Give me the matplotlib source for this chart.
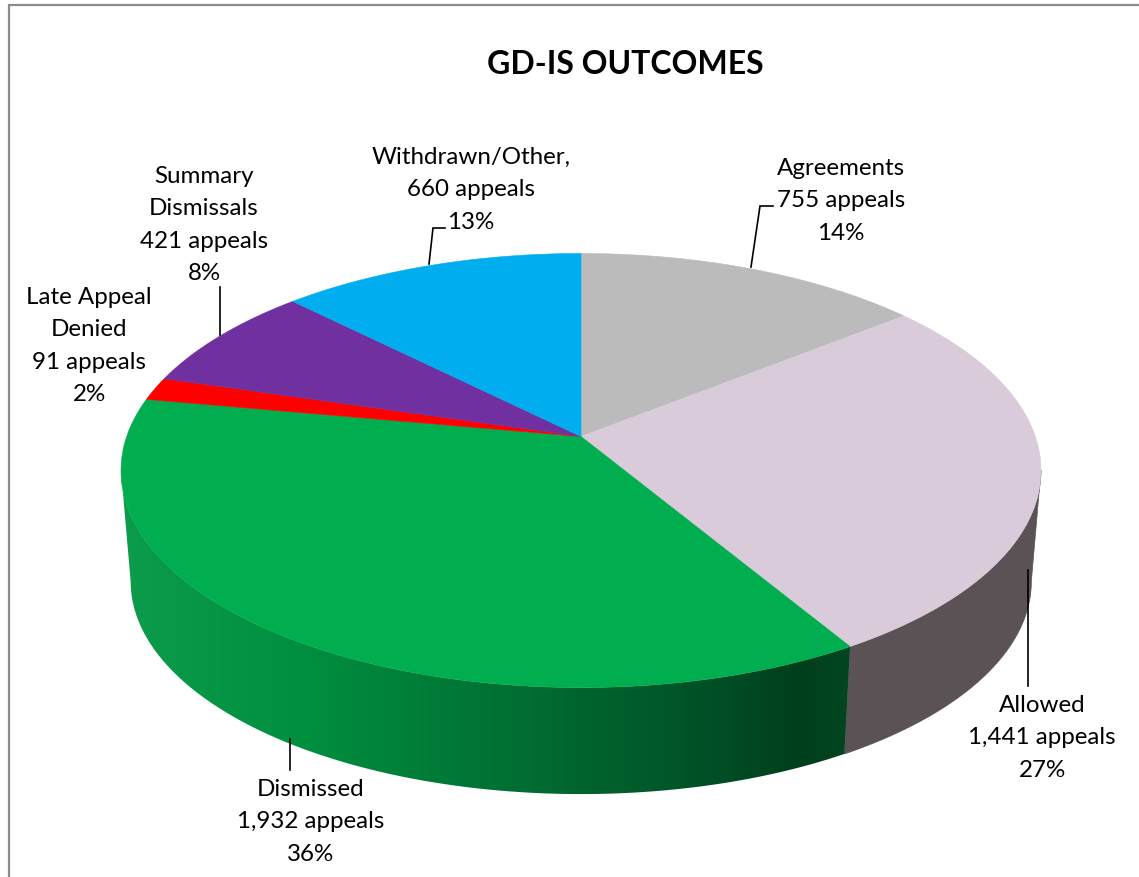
import numpy as np
import matplotlib
matplotlib.use("Agg")
import matplotlib.pyplot as plt
from matplotlib.colors import LinearSegmentedColormap
from matplotlib.patches import Polygon

plt.rcParams['font.family'] = ['Lato', 'DejaVu Sans']

# clockwise from twelve o'clock
names = ["Agreements", "Allowed", "Dismissed", "Late Appeal\nDenied", "Summary\nDismissals", "Withdrawn/Other,"]
appeals = [755, 1441, 1932, 91, 421, 660]
percents = [14, 27, 36, 2, 8, 13]
title = "GD-IS OUTCOMES"

colors = ["#BBBBBB", "#D9CBD9", "#00AE4F", "#FF0000", "#7030A0", "#00AEEF"]
label_pos = [(841, 201), (1042, 738), (311, 822), (89, 346), (204, 225), (471, 190)]
leaders = [
    ([751, 760, 773], [268, 207, 207]),
    ([1028, 1028], [571, 687]),
    ([290, 290], [740, 771]),
    ([220, 220], [288, 336]),
    ([429, 433, 445], [265, 229, 229]),
]

# pie geometry in pixels, tilt is the perspective of the disc
cx, cy = 581, 437.5
a, b, tilt = 454.3, 211.7, 0.1567
shrink, depth = 0.979, 111.8


def top_ring(theta):
    u, v = np.sin(theta), np.cos(theta)
    w = 1 + tilt * v
    return cx + a * u / w, cy - b * v / w


def bottom_ring(theta):
    x, y = top_ring(theta)
    return cx + shrink * (x - cx), cy + depth + shrink * (y - cy)


def side_polygon(start, end):
    theta = np.linspace(start, end, 200)
    x1, y1 = top_ring(theta)
    x2, y2 = bottom_ring(theta)
    return np.column_stack([np.r_[x1, x2[::-1]], np.r_[y1, y2[::-1]]])


fig = plt.figure(figsize=(11.39, 8.78), dpi=100)
ax = fig.add_axes([0, 0, 1, 1])
ax.set_xlim(0, 1139)
ax.set_ylim(878, 0)
ax.axis("off")

# chart frame, only the top and left edges are inside the canvas
ax.plot([9, 9, 1139], [878, 5.5, 5.5], color="#8C8C8C", lw=1.6, solid_joinstyle="miter")

edges = np.r_[0, np.cumsum(appeals)] / np.sum(appeals) * 2 * np.pi
limit = np.arcsin(tilt)  # where the rim meets the silhouette

# rim, visible only for the two front slices
rim_allowed = Polygon(side_polygon(np.pi / 2 + limit, edges[2]), fc="#5A5255", ec="#5A5255", lw=0.5)
ax.add_patch(rim_allowed)

rim_dismissed = Polygon(side_polygon(edges[2], 3 * np.pi / 2 - limit), fc="none", ec="none")
ax.add_patch(rim_dismissed)
shade = LinearSegmentedColormap.from_list("rim", [
    (0.0, "#0C9C4B"), (0.25, "#008F40"), (0.5, "#007334"),
    (0.75, "#00572A"), (0.93, "#003F1D"), (1.0, "#044621"),
])
grad = ax.imshow(np.linspace(0, 1, 512).reshape(1, -1), cmap=shade, aspect="auto",
                 extent=[120, 852, 800, 480], zorder=1)
grad.set_clip_path(rim_dismissed)
ax.set_xlim(0, 1139)
ax.set_ylim(878, 0)

# top face
for i, c in enumerate(colors):
    theta = np.linspace(edges[i], edges[i + 1], 200)
    x, y = top_ring(theta)
    pts = np.column_stack([np.r_[cx, x], np.r_[cy, y]])
    ax.add_patch(Polygon(pts, fc=c, ec=c, lw=0.4, zorder=2))

for lx, ly in leaders:
    ax.plot(lx, ly, color="black", lw=1.2, zorder=3, solid_joinstyle="miter")

for name, n, p, (tx, ty) in zip(names, appeals, percents, label_pos):
    ax.text(tx, ty, f"{name}\n{n:,} appeals\n{p}%", ha="center", va="center",
            multialignment="center", fontsize=17.4, color="black", linespacing=1.68, zorder=4)

ax.text(625, 65, title, ha="center", va="center", fontsize=23, fontweight="bold", color="black")

fig.savefig("out.png", dpi=100)
